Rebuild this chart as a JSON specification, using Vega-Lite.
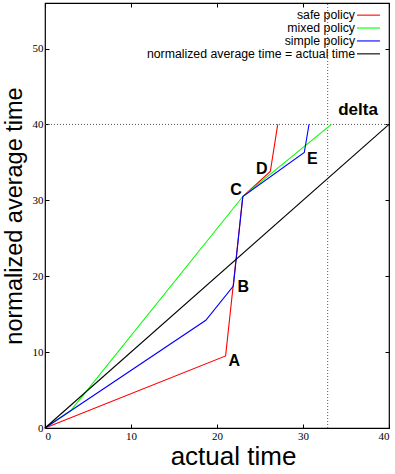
{
  "$schema": "https://vega.github.io/schema/vega-lite/v6.json",
  "width": 344,
  "height": 425,
  "autosize": {"type": "none"},
  "padding": {"left": 45, "top": 3, "right": 6, "bottom": 46},
  "background": "white",
  "config": {
    "view": {"stroke": "black", "strokeWidth": 1.2},
    "axis": {
      "domainColor": "black",
      "tickColor": "black",
      "labelColor": "black",
      "titleColor": "black",
      "grid": false,
      "labelFont": "Liberation Sans Narrow",
      "labelFontSize": 11,
      "titleFont": "Liberation Sans",
      "titleFontWeight": "normal"
    }
  },
  "datasets": {
    "lines": [
      {"series": "safe", "i": 0, "x": 0, "y": 0},
      {"series": "safe", "i": 1, "x": 21.0, "y": 9.5},
      {"series": "safe", "i": 2, "x": 23.0, "y": 30.5},
      {"series": "safe", "i": 3, "x": 26.2, "y": 33.8},
      {"series": "safe", "i": 4, "x": 27.06, "y": 40},
      {"series": "mixed", "i": 0, "x": 0, "y": 0},
      {"series": "mixed", "i": 1, "x": 3.0, "y": 2.3},
      {"series": "mixed", "i": 2, "x": 23.0, "y": 30.5},
      {"series": "mixed", "i": 3, "x": 33.3, "y": 40},
      {"series": "simple", "i": 0, "x": 0, "y": 0},
      {"series": "simple", "i": 1, "x": 18.7, "y": 14.2},
      {"series": "simple", "i": 2, "x": 21.9, "y": 18.7},
      {"series": "simple", "i": 3, "x": 23.0, "y": 30.5},
      {"series": "simple", "i": 4, "x": 30.15, "y": 36.3},
      {"series": "simple", "i": 5, "x": 30.7, "y": 40},
      {"series": "ideal", "i": 0, "x": 0, "y": 0},
      {"series": "ideal", "i": 1, "x": 40, "y": 40}
    ],
    "guides": [
      {"x": 0, "x2": 40, "y": 40, "y2": 40},
      {"x": 32.87, "x2": 32.87, "y": 0, "y2": 56}
    ],
    "legend": [
      {"series": "safe", "label": "safe policy", "y": 54.4, "xs": 36.28, "xe": 38.95, "xt": 36.05},
      {"series": "mixed", "label": "mixed policy", "y": 52.7, "xs": 36.28, "xe": 38.95, "xt": 36.05},
      {"series": "simple", "label": "simple policy", "y": 51.0, "xs": 36.28, "xe": 38.95, "xt": 36.05},
      {"series": "ideal", "label": "normalized average time = actual time", "y": 49.3, "xs": 36.28, "xe": 38.95, "xt": 36.05}
    ],
    "labels": [
      {"t": "A", "x": 22.0, "y": 8.8},
      {"t": "B", "x": 23.06, "y": 18.6},
      {"t": "C", "x": 22.2, "y": 31.3},
      {"t": "D", "x": 25.2, "y": 34.1},
      {"t": "E", "x": 31.08, "y": 35.5},
      {"t": "delta", "x": 36.4, "y": 41.9}
    ]
  },
  "resolve": {"axis": {"x": "independent", "y": "independent"}},
  "layer": [
    {
      "data": {"name": "guides"},
      "mark": {"type": "rule", "color": "#555555", "strokeDash": [1, 2], "strokeWidth": 1},
      "encoding": {
        "x": {"field": "x", "type": "quantitative", "scale": {"domain": [0, 40], "nice": false},
          "axis": {"orient": "top", "labels": false, "title": null, "domain": false, "tickSize": -4, "values": [0, 10, 20, 30, 40]}},
        "x2": {"field": "x2"},
        "y": {"field": "y", "type": "quantitative", "scale": {"domain": [0, 56], "nice": false},
          "axis": {"orient": "right", "labels": false, "title": null, "domain": false, "tickSize": -4, "values": [0, 10, 20, 30, 40, 50]}},
        "y2": {"field": "y2"}
      }
    },
    {
      "data": {"name": "lines"},
      "mark": {"type": "line", "strokeWidth": 1.1},
      "encoding": {
        "x": {"field": "x", "type": "quantitative",
          "axis": {"title": "actual time", "titleFontSize": 26, "titlePadding": 2, "titleX": 188, "tickSize": -4, "labelPadding": 6, "values": [0, 10, 20, 30, 40], "domain": false}},
        "y": {"field": "y", "type": "quantitative",
          "axis": {"title": "normalized average time", "titleFontSize": 23.5, "titlePadding": 6, "tickSize": -4, "labelPadding": 6, "values": [0, 10, 20, 30, 40, 50], "domain": false}},
        "color": {"field": "series", "type": "nominal",
          "scale": {"domain": ["safe", "mixed", "simple", "ideal"], "range": ["#ff0000", "#00ff00", "#0000ff", "#000000"]},
          "legend": null},
        "order": {"field": "i", "type": "quantitative"}
      }
    },
    {
      "data": {"name": "legend"},
      "mark": {"type": "rule", "strokeWidth": 1.1},
      "encoding": {
        "x": {"field": "xs", "type": "quantitative", "axis": null},
        "x2": {"field": "xe"},
        "y": {"field": "y", "type": "quantitative", "axis": null},
        "color": {"field": "series", "type": "nominal", "legend": null}
      }
    },
    {
      "data": {"name": "legend"},
      "mark": {"type": "text", "align": "right", "baseline": "middle", "font": "Liberation Sans", "fontSize": 12.3, "color": "black"},
      "encoding": {
        "x": {"field": "xt", "type": "quantitative", "axis": null},
        "y": {"field": "y", "type": "quantitative", "axis": null},
        "text": {"field": "label"}
      }
    },
    {
      "data": {"name": "labels"},
      "mark": {"type": "text", "align": "center", "baseline": "middle", "font": "Liberation Sans", "fontWeight": "bold", "fontSize": 16, "color": "black"},
      "encoding": {
        "x": {"field": "x", "type": "quantitative", "axis": null},
        "y": {"field": "y", "type": "quantitative", "axis": null},
        "text": {"field": "t"},
        "size": {"condition": {"test": "datum.t === 'delta'", "value": 17}, "value": 16}
      }
    }
  ]
}
